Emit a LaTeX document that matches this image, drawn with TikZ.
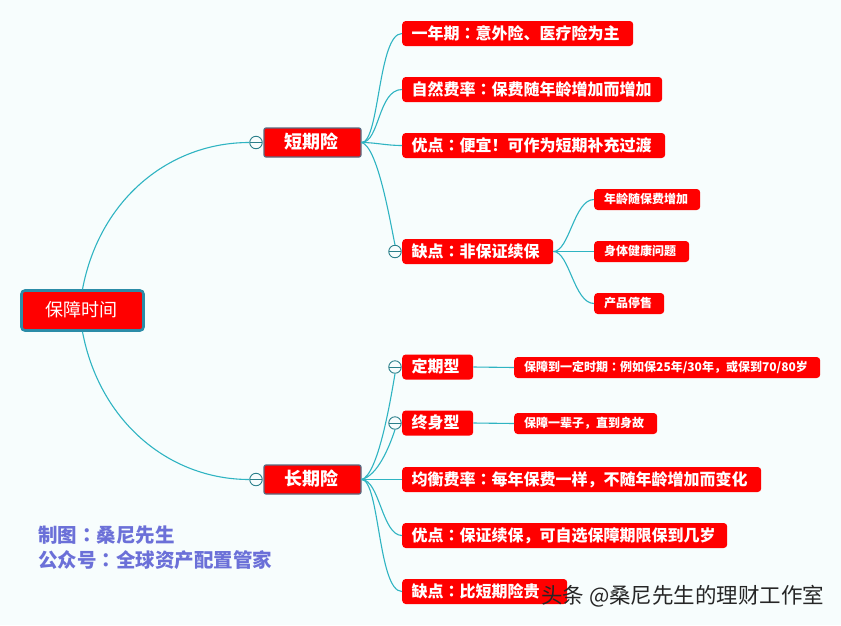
\documentclass[tikz,border=0pt]{standalone}
\usepackage{fontspec}
\setmainfont{Noto Sans CJK SC}
\newfontfamily\tcfont{Noto Sans CJK TC}
\newcommand{\cn}{{\tcfont ：}}
\definecolor{bgc}{HTML}{F7FDFD}
\definecolor{linec}{HTML}{2FB4C2}
\definecolor{redc}{HTML}{FF0000}
\definecolor{knob}{HTML}{2A7F8A}
\definecolor{rootedge}{HTML}{2B8CA8}
\definecolor{topicedge}{HTML}{5A6A80}
\definecolor{creditc}{HTML}{6B70D8}
\tikzset{
  x=1pt,y=-1pt,
  conn/.style={draw=linec,line width=1.1pt},
  rootbox/.style={draw=rootedge,line width=2.6pt,fill=redc,rounded corners=3.5pt,text=white,
    minimum width=122pt,minimum height=40pt,inner sep=0pt,font=\fontsize{18}{18}\selectfont,text height=15pt,text depth=3pt},
  topicbox/.style={draw=topicedge,line width=1.2pt,fill=redc,rounded corners=2pt,text=white,
    minimum width=97pt,minimum height=29pt,inner sep=0pt,font=\fontsize{18}{18}\selectfont\bfseries,text height=15pt,text depth=3pt},
  mainbox/.style={fill=redc,rounded corners=3.5pt,text=white,anchor=west,
    text width=#1pt-19pt,inner xsep=9.5pt,inner ysep=0pt,minimum height=25pt,align=left,
    font=\fontsize{16}{16}\selectfont\bfseries,text height=13.5pt,text depth=2.5pt},
  subbox/.style={fill=redc,rounded corners=3.5pt,text=white,anchor=west,
    text width=#1pt-20pt,inner xsep=10pt,inner ysep=0pt,minimum height=21pt,align=left,
    font=\fontsize{12}{12}\selectfont\bfseries,text height=10pt,text depth=2pt},
  knobc/.style={circle,draw=knob,fill=bgc,line width=0.9pt,minimum size=12.5pt,inner sep=0pt,
    path picture={\draw[knob,line width=0.9pt] (path picture bounding box.west) -- (path picture bounding box.east);}},
  credit/.style={anchor=west,text=creditc,inner sep=0pt,font=\fontsize{19.5}{19.5}\selectfont\bfseries},
  wmark/.style={anchor=west,text=black!85,inner sep=0pt,font=\fontsize{21.5}{21.5}\selectfont}
}
\begin{document}
\begin{tikzpicture}
\fill[bgc] (0,0) rectangle (841,625);
\useasboundingbox (0,0) rectangle (841,625);
\node[rootbox] (root) at (82.5,310.5) {保障时间\kern2pt};
\node[topicbox] (short) at (312.5,142.5) {短期险\kern2pt};
\node[topicbox] (long) at (312.5,479.5) {长期险\kern2pt};
\node[knobc] (ks) at (256,142.5) {};
\node[knobc] (kl) at (256,479.5) {};

\node[mainbox=231] (a1) at (402,33.5) {\mbox{一年期\cn 意外险、医疗险为主}};
\node[mainbox=260] (a2) at (402,89.5) {\mbox{自然费率\cn 保费随年龄增加而增加}};
\node[mainbox=263] (a3) at (402,145.5) {\mbox{优点\cn 便宜！可作为短期补充过渡}};
\node[mainbox=151] (a4) at (402,251.5) {\mbox{缺点\cn 非保证续保}};
\node[knobc] (ka4) at (395,251.5) {};
\node[subbox=106] (b1) at (594,199.5) {\mbox{年龄随保费增加}};
\node[subbox=95] (b2) at (594,251.5) {\mbox{身体健康问题}};
\node[subbox=70] (b3) at (594,303.5) {\mbox{产品停售}};

\node[mainbox=71] (c1) at (402,367) {\mbox{定期型}};
\node[knobc] (kc1) at (395,367) {};
\node[subbox=306] (d1) at (514,367.5) {\mbox{保障到一定时期\cn 例如保25年/30年，或保到70/80岁}};
\node[mainbox=71] (c2) at (402,423) {\mbox{终身型}};
\node[knobc] (kc2) at (395,423) {};
\node[subbox=143] (d2) at (514,423.5) {\mbox{保障一辈子，直到身故}};
\node[mainbox=359] (c3) at (402,479.5) {\mbox{均衡费率\cn 每年保费一样，不随年龄增加而变化}};
\node[mainbox=325] (c4) at (402,535.5) {\mbox{优点\cn 保证续保，可自选保障期限保到几岁}};
\node[mainbox=165] (c5) at (402,591.5) {\mbox{缺点\cn 比短期险贵}};

\draw[conn] (root.north) .. controls +(17,-90) and +(-80,0) .. (ks.west);
\draw[conn] (root.south) .. controls +(17,90) and +(-80,0) .. (kl.west);

\draw[conn] (short.east) .. controls +(18,0) and +(-24,0) .. (a1.west);
\draw[conn] (short.east) .. controls +(18,0) and +(-24,0) .. (a2.west);
\draw[conn] (short.east) .. controls +(14,0) and +(-16,0) .. (a3.west);
\draw[conn] (short.east) .. controls +(16,4) and +(-5,-24) .. (ka4.north);
\draw[conn] (a4.east) .. controls +(16,0) and +(-20,0) .. (b1.west);
\draw[conn] (a4.east) -- (b2.west);
\draw[conn] (a4.east) .. controls +(16,0) and +(-20,0) .. (b3.west);

\draw[conn] (long.east) .. controls +(16,-4) and +(-5,30) .. (kc1.south);
\draw[conn] (long.east) .. controls +(16,-4) and +(-6,18) .. (kc2.south);
\draw[conn] (long.east) -- (c3.west);
\draw[conn] (long.east) .. controls +(18,0) and +(-20,0) .. (c4.west);
\draw[conn] (long.east) .. controls +(18,0) and +(-24,0) .. (c5.west);
\draw[conn] (c1.east) -- (d1.west);
\draw[conn] (c2.east) -- (d2.west);

\node[credit] (cr1) at (38,535) {制图\cn 桑尼先生};
\node[credit] (cr2) at (38,560) {公众号\cn 全球资产配置管家};
\node[wmark] (wm) at (541,596) {头条 @桑尼先生的理财工作室};
\end{tikzpicture}
\end{document}
